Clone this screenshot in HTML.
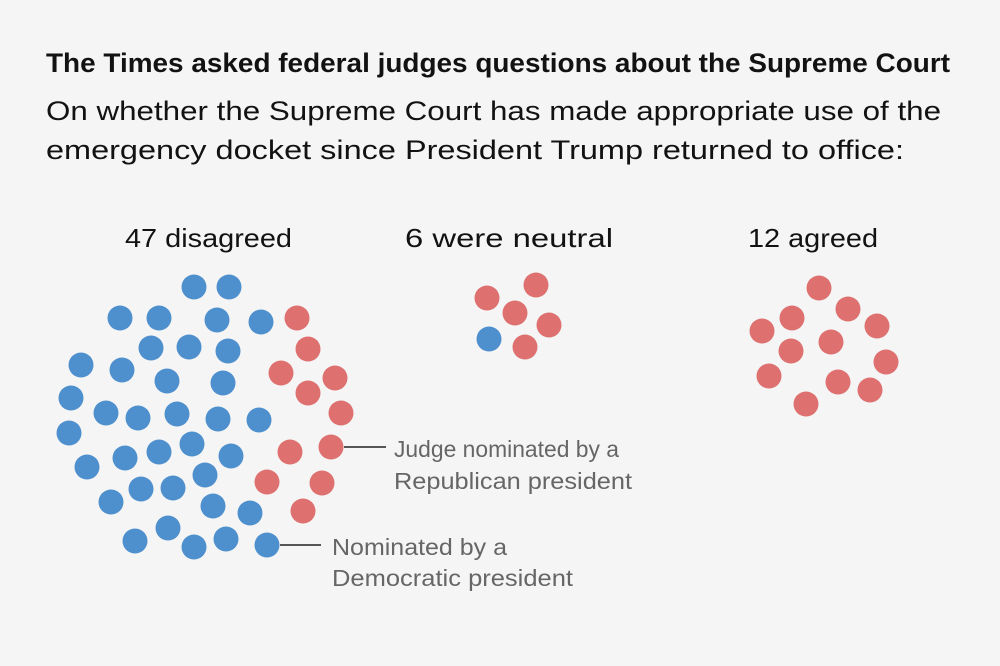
<!DOCTYPE html>
<html><head><meta charset="utf-8"><style>
html,body{margin:0;padding:0;background:#f5f5f5;}
svg{display:block;}
text{font-family:"Liberation Sans",sans-serif;}
</style></head><body>
<svg width="1000" height="666" viewBox="0 0 1000 666">
<rect width="1000" height="666" fill="#f5f5f5"/>
<text x="46" y="72" font-size="27" font-weight="bold" fill="#121212" textLength="904" lengthAdjust="spacingAndGlyphs">The Times asked federal judges questions about the Supreme Court</text>
<text x="46" y="120" font-size="27" fill="#121212" textLength="895" lengthAdjust="spacingAndGlyphs">On whether the Supreme Court has made appropriate use of the</text>
<text x="46" y="159" font-size="27" fill="#121212" textLength="858" lengthAdjust="spacingAndGlyphs">emergency docket since President Trump returned to office:</text>
<text x="125" y="247" font-size="26" fill="#121212" textLength="167" lengthAdjust="spacingAndGlyphs">47 disagreed</text>
<text x="405" y="247" font-size="26" fill="#121212" textLength="208" lengthAdjust="spacingAndGlyphs">6 were neutral</text>
<text x="748" y="247" font-size="26" fill="#121212" textLength="130" lengthAdjust="spacingAndGlyphs">12 agreed</text>
<g fill="#666" font-size="23">
<text x="394" y="457" textLength="225" lengthAdjust="spacingAndGlyphs">Judge nominated by a</text>
<text x="394" y="489" textLength="238" lengthAdjust="spacingAndGlyphs">Republican president</text>
<text x="332" y="555" textLength="175" lengthAdjust="spacingAndGlyphs">Nominated by a</text>
<text x="332" y="586" textLength="241" lengthAdjust="spacingAndGlyphs">Democratic president</text>
</g>
<line x1="344" y1="447" x2="386" y2="447" stroke="#555" stroke-width="2"/>
<line x1="280" y1="545" x2="321" y2="545" stroke="#555" stroke-width="2"/>
<g fill="#4e8fcd">
<circle cx="194" cy="287" r="12.5"/><circle cx="229" cy="287" r="12.5"/>
<circle cx="120" cy="318" r="12.5"/><circle cx="159" cy="318" r="12.5"/><circle cx="217" cy="320" r="12.5"/><circle cx="261" cy="322" r="12.5"/>
<circle cx="151" cy="348" r="12.5"/><circle cx="189" cy="347" r="12.5"/><circle cx="228" cy="351" r="12.5"/>
<circle cx="81" cy="365" r="12.5"/><circle cx="122" cy="370" r="12.5"/><circle cx="167" cy="381" r="12.5"/><circle cx="223" cy="383" r="12.5"/>
<circle cx="71" cy="398" r="12.5"/><circle cx="106" cy="413" r="12.5"/><circle cx="138" cy="418" r="12.5"/><circle cx="177" cy="414" r="12.5"/><circle cx="218" cy="419" r="12.5"/><circle cx="259" cy="420" r="12.5"/>
<circle cx="69" cy="433" r="12.5"/><circle cx="87" cy="467" r="12.5"/><circle cx="125" cy="458" r="12.5"/><circle cx="159" cy="452" r="12.5"/><circle cx="192" cy="444" r="12.5"/><circle cx="231" cy="456" r="12.5"/>
<circle cx="205" cy="475" r="12.5"/><circle cx="141" cy="489" r="12.5"/><circle cx="173" cy="488" r="12.5"/><circle cx="111" cy="502" r="12.5"/><circle cx="213" cy="506" r="12.5"/><circle cx="250" cy="513" r="12.5"/>
<circle cx="168" cy="528" r="12.5"/><circle cx="135" cy="541" r="12.5"/><circle cx="194" cy="547" r="12.5"/><circle cx="226" cy="539" r="12.5"/><circle cx="267" cy="545" r="12.5"/>
<circle cx="489" cy="339" r="12.5"/>
</g>
<g fill="#de7070">
<circle cx="297" cy="318" r="12.5"/><circle cx="308" cy="349" r="12.5"/><circle cx="281" cy="373" r="12.5"/><circle cx="335" cy="378" r="12.5"/><circle cx="308" cy="393" r="12.5"/><circle cx="341" cy="413" r="12.5"/><circle cx="331" cy="447" r="12.5"/><circle cx="290" cy="452" r="12.5"/><circle cx="267" cy="482" r="12.5"/><circle cx="322" cy="483" r="12.5"/><circle cx="303" cy="511" r="12.5"/>
<circle cx="536" cy="285" r="12.5"/><circle cx="487" cy="298" r="12.5"/><circle cx="515" cy="313" r="12.5"/><circle cx="549" cy="325" r="12.5"/><circle cx="525" cy="347" r="12.5"/>
<circle cx="819" cy="288" r="12.5"/><circle cx="848" cy="309" r="12.5"/><circle cx="792" cy="318" r="12.5"/><circle cx="877" cy="326" r="12.5"/><circle cx="762" cy="331" r="12.5"/><circle cx="831" cy="342" r="12.5"/><circle cx="791" cy="351" r="12.5"/><circle cx="886" cy="362" r="12.5"/><circle cx="769" cy="376" r="12.5"/><circle cx="838" cy="382" r="12.5"/><circle cx="870" cy="390" r="12.5"/><circle cx="806" cy="404" r="12.5"/>
</g>
</svg>
</body></html>
